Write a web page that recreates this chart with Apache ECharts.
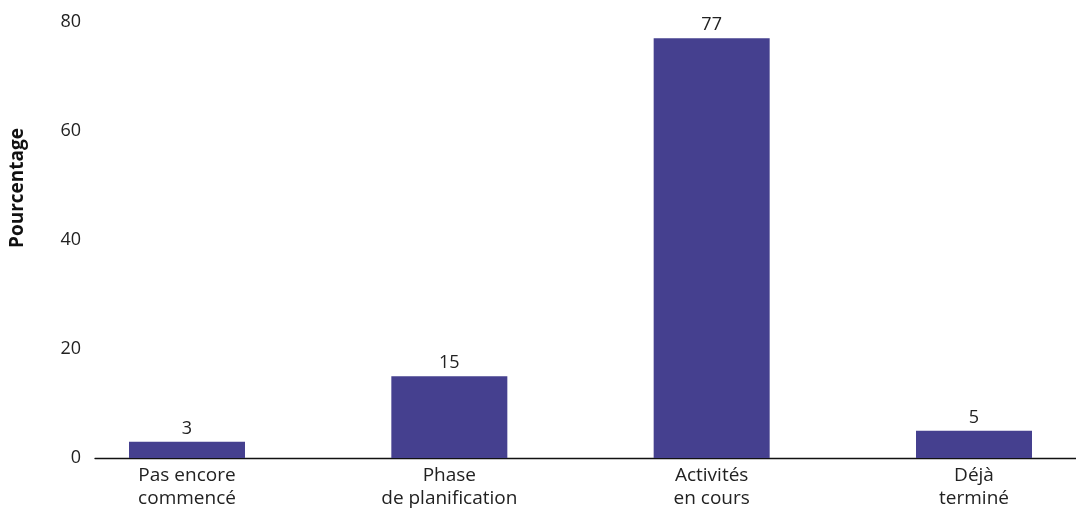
<!DOCTYPE html>
<html><head><meta charset="utf-8">
<script src="https://cdn.jsdelivr.net/npm/echarts@6/dist/echarts.min.js"></script>
<style>html,body{margin:0;padding:0;background:#fff}#c{width:1076px;height:510px}</style>
</head><body><div id="c"></div>
<script>
const categories = ["Pas encore\ncommencé", "Phase\nde planification", "Activités\nen cours", "Déjà\nterminé"];
const values = [3, 15, 77, 5];
const yTicks = [0, 20, 40, 60, 80];
const yTitle = "Pourcentage";

const FONT = "Open Sans";
const chart = echarts.init(document.getElementById('c'));
chart.setOption({
  animation: false,
  textStyle: {fontFamily: FONT},
  grid: [
    {left: 187, width: 787, top: 22, bottom: 52, containLabel: false},
    {left: 95, right: 0, top: 22, bottom: 52, containLabel: false}
  ],
  xAxis: [
    {type: 'category', gridIndex: 0, data: categories, boundaryGap: false,
     axisLine: {show: false}, axisTick: {show: false},
     axisLabel: {color: '#222', fontSize: 19, lineHeight: 23, margin: 6, fontFamily: FONT, interval: 0}},
    {type: 'category', gridIndex: 1, data: categories,
     axisLine: {show: true, lineStyle: {color: '#111', width: 1.3}}, axisTick: {show: false},
     axisLabel: {show: false}}
  ],
  yAxis: [
    {type: 'value', gridIndex: 0, min: yTicks[0], max: yTicks[yTicks.length-1], interval: 20,
     axisLine: {show: false}, axisTick: {show: false}, splitLine: {show: false},
     axisLabel: {show: false}},
    {type: 'value', gridIndex: 1, min: yTicks[0], max: yTicks[yTicks.length-1], interval: 20,
     axisLine: {show: false}, axisTick: {show: false}, splitLine: {show: false},
     axisLabel: {color: '#222', fontSize: 18, margin: 14, fontFamily: FONT}}
  ],
  graphic: [{
    type: 'text', left: 8, top: 128, rotation: Math.PI/2,
    style: {text: yTitle, font: 'bold 19px "' + FONT + '"', fill: '#111'}
  }],
  series: [{
    type: 'bar', xAxisIndex: 0, yAxisIndex: 0, data: values, barWidth: 116,
    itemStyle: {color: '#45408F'},
    label: {show: true, position: 'top', color: '#222', fontSize: 18, distance: 4, fontFamily: FONT}
  }]
});
</script></body></html>
